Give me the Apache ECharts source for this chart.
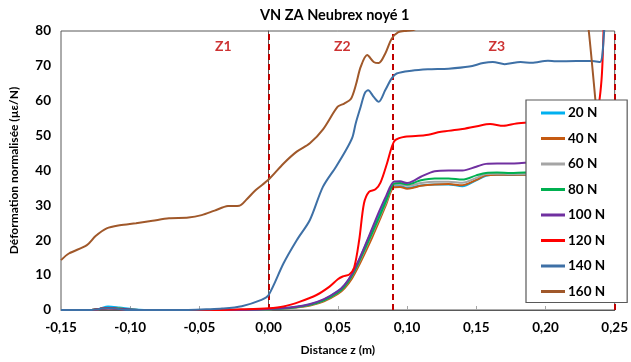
<!DOCTYPE html>
<html>
<head>
<meta charset="utf-8">
<script src="https://cdn.jsdelivr.net/npm/echarts@6/dist/echarts.min.js"></script>
<style>
  html, body { margin: 0; padding: 0; background: #fff; }
  #chart { width: 631px; height: 362px; }
</style>
</head>
<body>
<div id="chart"></div>
<script>
// Normalised strain (µε/N) along the fibre, for each applied load.
const loadNames = ['20 N', '40 N', '60 N', '80 N', '100 N', '120 N', '140 N', '160 N'];
const loadColors = ['#00B0F0', '#C55A11', '#A5A5A5', '#00B050', '#7030A0', '#FF0000', '#3E70A6', '#A0582A'];

// Shared sampling positions (m) for the 20–100 N curves
const zCluster = [-0.15, -0.128, -0.122, -0.116, -0.108, -0.098, -0.09, -0.03, -0.01, 0, 0.01, 0.02, 0.03, 0.04,
  0.05, 0.055, 0.06, 0.065, 0.07, 0.075, 0.08, 0.085, 0.0905, 0.095, 0.1, 0.105, 0.11, 0.12, 0.13, 0.14,
  0.15, 0.157, 0.165, 0.175, 0.185, 0.2, 0.215, 0.23, 0.238, 0.2445, 0.2465, 0.25];

const strain20 = [0, 0, 0.4, 1.0, 0.7, 0.2, 0, 0, 0.1, 0.2, 0.4, 0.9, 1.6, 3.0, 5.4, 7.2, 10.0, 14.0, 18.6, 23.2,
  27.6, 32.0, 35.6, 35.6, 35.0, 35.3, 35.7, 36.0, 36.0, 35.5, 37.2, 38.5, 38.8, 38.7, 38.8, 38.8, 38.7, 38.7,
  38.6, 31.0, 26.7, 24.0];
const strain40 = [0, 0, 0.3, 0.6, 0.4, 0.1, 0, 0, 0.1, 0.2, 0.4, 0.7, 1.3, 2.5, 4.6, 6.3, 8.9, 12.6, 16.7, 21.0,
  25.6, 30.4, 35.2, 35.3, 34.8, 35.1, 35.6, 36.0, 36.1, 35.8, 37.3, 38.6, 38.8, 38.8, 38.8, 38.9, 38.8, 38.8,
  38.7, 35.0, 32.5, 28.0];
const strain60 = [0, 0, 0.3, 0.6, 0.4, 0.1, 0, 0, 0.1, 0.2, 0.4, 0.8, 1.5, 2.8, 5.0, 6.8, 9.6, 13.4, 17.6, 22.0,
  26.4, 31.0, 35.9, 36.0, 35.6, 35.9, 36.4, 36.8, 36.8, 36.5, 37.9, 39.0, 39.1, 39.0, 39.0, 39.1, 39.0, 39.0,
  38.9, 36.5, 34.0, 31.0];
const strain80 = [0, 0, 0.3, 0.6, 0.4, 0.1, 0, 0, 0.1, 0.2, 0.4, 0.8, 1.5, 2.8, 5.0, 6.8, 9.7, 13.6, 17.9, 22.3,
  26.8, 31.4, 36.2, 36.4, 36.0, 36.5, 37.2, 37.7, 37.7, 37.4, 38.6, 39.3, 39.4, 39.3, 39.4, 39.4, 39.3, 39.3,
  39.3, 37.0, 35.3, 32.5];
const strain100 = [0, 0, 0.3, 0.5, 0.3, 0.1, 0, 0, 0.1, 0.3, 0.5, 0.9, 1.7, 3.1, 5.4, 7.3, 10.2, 14.2, 18.8, 23.6,
  28.4, 32.8, 36.8, 36.9, 36.4, 37.1, 38.2, 39.8, 40.0, 40.0, 41.1, 41.9, 42.0, 42.0, 42.2, 42.3, 42.3, 42.3,
  42.3, 38.5, 36.4, 34.4];

// [z (m), strain] pairs for the higher loads
const strain120 = [[-0.15, 0], [-0.128, 0], [-0.12, 0.4], [-0.113, 0.5], [-0.105, 0.1], [-0.095, 0], [-0.04, 0],
  [-0.02, 0.2], [0, 0.5], [0.0108, 1.0], [0.0227, 2.4], [0.0346, 4.3], [0.044, 6.7], [0.05, 8.8], [0.0535, 9.6],
  [0.0583, 10.2], [0.0618, 12.2], [0.0654, 20], [0.0689, 30.6], [0.0725, 33.9], [0.0772, 34.6], [0.0808, 36.5],
  [0.0855, 42], [0.089, 46.8], [0.0914, 48.7], [0.0985, 49.7], [0.1128, 50.1], [0.1246, 51.1], [0.1388, 51.8],
  [0.1506, 52.7], [0.16, 53.3], [0.1696, 52.8], [0.179, 53.5], [0.19, 53.8], [0.21, 54.2], [0.23, 54.5],
  [0.2365, 55.5], [0.2405, 66], [0.2428, 88], [0.2455, 98], [0.25, 100]];
const strain140 = [[-0.15, 0], [-0.128, 0], [-0.12, 0.4], [-0.113, 0.5], [-0.105, 0.1], [-0.095, 0], [-0.06, 0],
  [-0.045, 0.2], [-0.0336, 0.4], [-0.0194, 1.1], [-0.0052, 2.9], [0, 4.3], [0.0108, 13.4], [0.0203, 20],
  [0.0298, 25.8], [0.0392, 35.3], [0.0487, 41.1], [0.0558, 45.8], [0.0605, 49.5], [0.0629, 53.5], [0.0665, 58.3],
  [0.0695, 62.2], [0.0719, 63], [0.0759, 61.1], [0.0795, 59.7], [0.0842, 63], [0.0889, 66.4], [0.0925, 67.8],
  [0.1032, 68.6], [0.115, 69], [0.13, 69.2], [0.145, 69.8], [0.155, 70.8], [0.162, 71.1], [0.1705, 70.5],
  [0.182, 71.1], [0.19, 70.9], [0.2018, 71.5], [0.2075, 71.3], [0.2224, 71.4], [0.2337, 71.4], [0.2394, 71.1],
  [0.2423, 79.4], [0.245, 95], [0.25, 100]];
const strain160 = [[-0.15, 14.3], [-0.1443, 16.2], [-0.1313, 18.6], [-0.125, 21.2], [-0.117, 23.4], [-0.1076, 24.3],
  [-0.0958, 24.9], [-0.0839, 25.6], [-0.072, 26.3], [-0.0579, 26.5], [-0.0484, 27.2], [-0.039, 28.5],
  [-0.0294, 29.8], [-0.0212, 29.9], [-0.0164, 31.5], [-0.0093, 34.4], [0, 37.4], [0.0108, 42], [0.0203, 45.4],
  [0.0298, 47.8], [0.0393, 51.8], [0.0499, 58.3], [0.0546, 59.2], [0.0594, 60.5], [0.063, 64.5], [0.0665, 69.7],
  [0.0712, 73.1], [0.0759, 71.1], [0.0795, 70.8], [0.0842, 73.5], [0.0889, 77.8], [0.0937, 79.7], [0.1, 80.1],
  [0.106, 80.5], [0.115, 85], [0.14, 88], [0.18, 90], [0.22, 90], [0.229, 86], [0.2313, 80], [0.2366, 58],
  [0.2405, 42], [0.245, 32], [0.25, 29]];

// Zone boundaries (m) and zone captions
const zoneBounds = [0, 0.0915, 0.2487];
const zoneNames = ['Z1', 'Z2', 'Z3'];
const zoneNameZ = [-0.0327, 0.0533, 0.1648];
const zoneNameStrain = [75.6, 75.6, 75.6];

const xTicks = { min: -0.15, max: 0.25, step: 0.05 };
const yTicks = { min: 0, max: 80, step: 10 };

const FONT = 'Lato, "Open Sans", sans-serif';
// Legend key: a short horizontal stroke centred in a 24×14 box
const LEGEND_STROKE = 'path://M0,0L0.01,0ZM0,5.6L24,5.6L24,8.4L0,8.4ZM24,14L23.99,14Z';

const zip = (zs, vs) => zs.map((z, i) => [z, vs[i]]);
const seriesData = [
  zip(zCluster, strain20), zip(zCluster, strain40), zip(zCluster, strain60),
  zip(zCluster, strain80), zip(zCluster, strain100), strain120, strain140, strain160
];

const lineSeries = loadNames.map((name, i) => ({
  name,
  type: 'line',
  data: seriesData[i],
  smooth: 0.3,
  symbol: 'none',
  legendIcon: LEGEND_STROKE,
  clip: true,
  lineStyle: { width: 2, color: loadColors[i] },
  itemStyle: { color: loadColors[i] },
  emphasis: { disabled: true },
  z: 2 + i
}));

const chart = echarts.init(document.getElementById('chart'), null, { renderer: 'canvas' });
chart.setOption({
  animation: false,
  backgroundColor: '#fff',
  title: {
    text: 'VN ZA Neubrex noyé 1',
    left: 255,
    top: 3,
    textStyle: { fontFamily: FONT, fontSize: 14.5, fontWeight: 'bold', color: '#000' }
  },
  grid: {
    left: 58, right: 12, top: 31, bottom: 52,
    show: true, borderColor: '#595959', borderWidth: 1, backgroundColor: 'transparent'
  },
  legend: {
    data: loadNames.map(name => ({ name, icon: LEGEND_STROKE })),
    orient: 'vertical',
    left: 526,
    top: 100,
    padding: [6, 22, 4, 15],
    itemWidth: 24,
    itemHeight: 14,
    itemGap: 11.5,
    backgroundColor: '#fff',
    borderColor: '#595959',
    borderWidth: 1.2,
    textStyle: { fontFamily: FONT, fontSize: 13.5, fontWeight: 'bold', color: '#000', padding: [0, 0, 0, -2] },
    z: 20
  },
  xAxis: {
    type: 'value',
    min: xTicks.min,
    max: xTicks.max,
    interval: xTicks.step,
    name: 'Distance z (m)',
    nameLocation: 'middle',
    nameGap: 34,
    nameTextStyle: { fontFamily: FONT, fontSize: 12, fontWeight: 'bold', color: '#000' },
    axisLine: { onZero: false, lineStyle: { color: '#595959', width: 1 } },
    axisTick: { show: true, inside: true, length: 4, lineStyle: { color: '#A6A6A6' } },
    axisLabel: {
      fontFamily: FONT, fontSize: 13.5, fontWeight: 'bold', color: '#000', margin: 11,
      formatter: v => v.toFixed(2).replace('.', ',')
    },
    splitLine: { show: false }
  },
  yAxis: {
    type: 'value',
    min: yTicks.min,
    max: yTicks.max,
    interval: yTicks.step,
    name: 'Déformation normalisée (µε/N)',
    nameLocation: 'middle',
    nameGap: 41,
    nameTextStyle: { fontFamily: FONT, fontSize: 12, fontWeight: 'bold', color: '#000' },
    axisLine: { show: true, lineStyle: { color: '#595959', width: 1 } },
    axisTick: { show: false },
    axisLabel: { fontFamily: FONT, fontSize: 13.5, fontWeight: 'bold', color: '#000', margin: 10 },
    splitLine: { show: false }
  },
  series: [
    ...lineSeries,
    {
      name: 'zones',
      type: 'line',
      data: [],
      silent: true,
      z: 15,
      markLine: {
        silent: true,
        symbol: ['none', 'none'],
        label: { show: false },
        lineStyle: { color: '#C00000', width: 2, type: [6, 4] },
        data: zoneBounds.map(z => ({ xAxis: z }))
      }
    },
    {
      name: 'zoneNames',
      type: 'scatter',
      silent: true,
      symbolSize: 0,
      data: zoneNames.map((n, i) => [zoneNameZ[i], zoneNameStrain[i], n]),
      label: {
        show: true,
        position: 'inside',
        formatter: p => p.value[2],
        fontFamily: FONT, fontSize: 14, fontWeight: 'bold', color: '#C00000'
      },
      z: 16
    }
  ]
});
</script>
</body>
</html>
